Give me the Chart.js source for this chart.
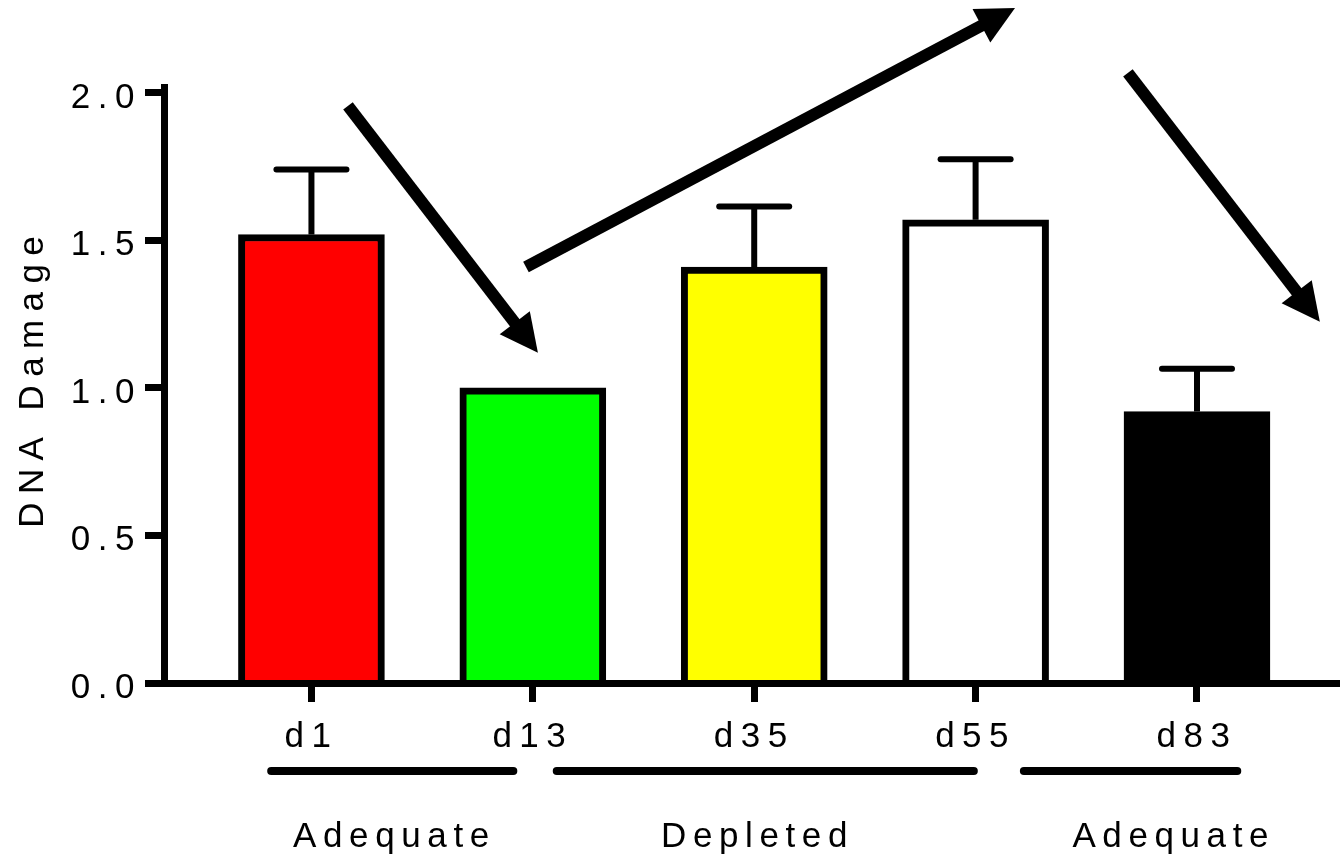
<!DOCTYPE html>
<html>
<head>
<meta charset="utf-8">
<script src="https://cdn.jsdelivr.net/npm/chart.js@4.4.1/dist/chart.umd.min.js"></script>
<style>
  html, body { margin: 0; padding: 0; background: #ffffff; }
  #wrap { width: 1340px; height: 855px; }
</style>
</head>
<body>
<div id="wrap"><canvas id="c" width="1340" height="855"></canvas></div>
<script>
// Sampling days and mean DNA damage with the upper SEM
const categories = ['d1', 'd13', 'd35', 'd55', 'd83'];
const damage = [1.52, 1.00, 1.41, 1.57, 0.92];
const sem = [0.22, 0.0, 0.205, 0.205, 0.145];
const barColors = ['#ff0000', '#00ff00', '#ffff00', '#ffffff', '#000000'];
const yTickValues = [0, 0.5, 1.0, 1.5, 2.0];

// Diet phases below the axis, spans in category units
const phases = ['Adequate', 'Depleted', 'Adequate'];
const phaseSpans = [[0.80, 1.93], [2.09, 4.01], [4.20, 5.20]];
const phaseCenters = [1.36, 3.0, 4.88];

// Trend arrows between phases, [x, y] in data units
const trendFrom = [[1.165, 1.956], [1.969, 1.410], [4.688, 2.068]];
const trendTo = [[2.023, 1.119], [4.178, 2.288], [5.555, 1.224]];

const FONT = 'Arial, "Liberation Sans", sans-serif';
const FONT_SIZE = 35;

function drawArrow(ctx, x1, y1, x2, y2, w, hl, hw) {
  const a = Math.atan2(y2 - y1, x2 - x1);
  const c = Math.cos(a), s = Math.sin(a);
  const bx = x2 - hl * c, by = y2 - hl * s;
  ctx.lineWidth = w;
  ctx.lineCap = 'butt';
  ctx.beginPath();
  ctx.moveTo(x1, y1);
  ctx.lineTo(bx + 2 * c, by + 2 * s);
  ctx.stroke();
  ctx.beginPath();
  ctx.moveTo(x2, y2);
  ctx.lineTo(bx - hw * s, by + hw * c);
  ctx.lineTo(bx + hw * s, by - hw * c);
  ctx.closePath();
  ctx.fill();
}

function spacedText(ctx, text, cx, y, spacing) {
  ctx.letterSpacing = spacing + 'px';
  const w = ctx.measureText(text).width - spacing;
  ctx.textAlign = 'left';
  ctx.fillText(text, cx - w / 2, y);
}

const decor = {
  id: 'decor',
  beforeDraw(chart) {
    chart.ctx.letterSpacing = '7.5px';
  },
  afterDatasetsDraw(chart) {
    const ctx = chart.ctx;
    const y = chart.scales.y;
    const meta = chart.getDatasetMeta(0);
    ctx.save();
    ctx.strokeStyle = '#000';
    meta.data.forEach((el, i) => {
      if (!sem[i]) return;
      const top = y.getPixelForValue(damage[i] + sem[i]);
      ctx.lineWidth = 6;
      ctx.lineCap = 'butt';
      ctx.beginPath();
      ctx.moveTo(el.x, el.y);
      ctx.lineTo(el.x, top);
      ctx.stroke();
      ctx.lineCap = 'round';
      ctx.beginPath();
      ctx.moveTo(el.x - 35, top);
      ctx.lineTo(el.x + 35, top);
      ctx.stroke();
    });
    ctx.restore();
  },
  afterDraw(chart) {
    const ctx = chart.ctx;
    const xs = chart.scales.x, ys = chart.scales.y;
    const area = chart.chartArea;
    ctx.save();
    ctx.fillStyle = '#000';
    ctx.strokeStyle = '#000';

    // trend arrows
    trendFrom.forEach((f, i) => {
      const t = trendTo[i];
      drawArrow(ctx,
        xs.getPixelForValue(f[0]), ys.getPixelForValue(f[1]),
        xs.getPixelForValue(t[0]), ys.getPixelForValue(t[1]),
        12, 38, 19);
    });

    // phase bars and names
    ctx.lineWidth = 8;
    ctx.lineCap = 'round';
    const lineY = area.bottom + 88;
    phaseSpans.forEach(sp => {
      ctx.beginPath();
      ctx.moveTo(xs.getPixelForValue(sp[0]) + 4, lineY);
      ctx.lineTo(xs.getPixelForValue(sp[1]) - 4, lineY);
      ctx.stroke();
    });
    ctx.font = FONT_SIZE + 'px ' + FONT;
    ctx.textBaseline = 'alphabetic';
    phases.forEach((p, i) => {
      spacedText(ctx, p, xs.getPixelForValue(phaseCenters[i]), area.bottom + 164, 6.6);
    });

    // y axis title
    ctx.translate(33, (area.top + area.bottom) / 2 - 3);
    ctx.rotate(-Math.PI / 2);
    ctx.textBaseline = 'middle';
    spacedText(ctx, 'DNA Damage', 0, 0, 8.4);
    ctx.restore();
  }
};

new Chart(document.getElementById('c'), {
  type: 'bar',
  data: {
    datasets: [{
      data: categories.map((c, i) => ({ x: i + 1, y: damage[i] })),
      backgroundColor: barColors,
      borderColor: '#000000',
      borderWidth: 7,
      barThickness: 146
    }]
  },
  options: {
    responsive: false,
    animation: false,
    devicePixelRatio: 1,
    layout: { padding: { top: 87, left: 0, right: 0, bottom: 0 } },
    plugins: { legend: { display: false }, tooltip: { enabled: false } },
    scales: {
      x: {
        type: 'linear',
        offset: false,
        min: 0.334,
        max: 5.646,
        afterBuildTicks: s => { s.ticks = categories.map((c, i) => ({ value: i + 1 })); },
        afterFit: s => { s.height = 172; },
        grid: { offset: false, drawOnChartArea: false, drawTicks: true, tickLength: 19, tickWidth: 7, tickColor: '#000' },
        border: { display: true, color: '#000', width: 7, z: 1 },
        ticks: {
          color: '#000',
          font: { family: FONT, size: FONT_SIZE },
          padding: 14,
          maxRotation: 0,
          autoSkip: false,
          callback: (v, i) => categories[i]
        }
      },
      y: {
        min: 0,
        max: 2.02,
        afterBuildTicks: s => { s.ticks = yTickValues.map(v => ({ value: v })); },
        afterFit: s => { s.width = 164; },
        grid: { drawOnChartArea: false, drawTicks: true, tickLength: 19, tickWidth: 7, tickColor: '#000' },
        border: { display: true, color: '#000', width: 7, z: 1 },
        ticks: {
          color: '#000',
          font: { family: FONT, size: FONT_SIZE },
          padding: 3,
          labelOffset: 5,
          callback: v => v.toFixed(1)
        }
      }
    }
  },
  plugins: [decor]
});
</script>
</body>
</html>
